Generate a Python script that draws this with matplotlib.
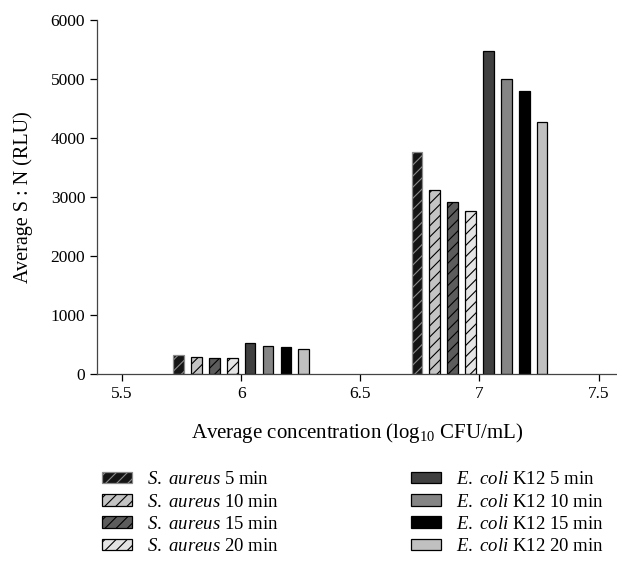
"""Average S:N vs concentration, grouped bars (S. aureus / E. coli K12)."""

import matplotlib
matplotlib.use("Agg")
import matplotlib.pyplot as plt
import numpy as np

plt.rcParams.update({
    "font.family": "Liberation Serif",
    "font.size": 12,
    "mathtext.fontset": "custom",
    "mathtext.rm": "Liberation Serif",
    "mathtext.it": "Liberation Serif:italic",
    "hatch.linewidth": 0.8,
})

# Data
concentrations = [6.0, 7.0]
series_labels = [
    r"$\it{S.\ aureus}$ 5 min",
    r"$\it{S.\ aureus}$ 10 min",
    r"$\it{S.\ aureus}$ 15 min",
    r"$\it{S.\ aureus}$ 20 min",
    r"$\it{E.\ coli}$ K12 5 min",
    r"$\it{E.\ coli}$ K12 10 min",
    r"$\it{E.\ coli}$ K12 15 min",
    r"$\it{E.\ coli}$ K12 20 min",
]
sa_5 = [320, 3760]
sa_10 = [290, 3120]
sa_15 = [270, 2910]
sa_20 = [265, 2755]
ec_5 = [520, 5480]
ec_10 = [475, 5000]
ec_15 = [455, 4790]
ec_20 = [425, 4265]
values = [sa_5, sa_10, sa_15, sa_20, ec_5, ec_10, ec_15, ec_20]

# Styles
fills = ["#151515", "#c4c4c4", "#5c5c5c", "#e4e4e4",
         "#404040", "#858585", "#000000", "#c0c0c0"]
edges = ["#8a8a8a", "black", "black", "black",
         "black", "black", "black", "black"]
hatches = ["///", "///", "///", "///", None, None, None, None]

fig = plt.figure(figsize=(6.17, 5.67), dpi=100)
ax = fig.add_axes([97 / 617, 1 - 374 / 567, 1 - 97 / 617, (374 - 20) / 567])

step = 0.075
width = 0.045
x = np.array(concentrations)
for i, (vals, lab) in enumerate(zip(values, series_labels)):
    ax.bar(x + (i - 3.5) * step, vals, width=width, color=fills[i],
           edgecolor=edges[i], hatch=hatches[i], linewidth=0.9, label=lab)

ax.set_xlim(5.395, 7.577)
ax.set_ylim(0, 6000)
ax.set_xticks([5.5, 6, 6.5, 7, 7.5])
ax.set_xticklabels(["5.5", "6", "6.5", "7", "7.5"])
ax.set_yticks(range(0, 6001, 1000))
ax.tick_params(direction="out", length=5, width=0.9, labelsize=12.5)
for s in ("top", "right"):
    ax.spines[s].set_visible(False)
for s in ("left", "bottom"):
    ax.spines[s].set_linewidth(0.9)
    ax.spines[s].set_color("#444444")

ax.set_ylabel("Average S : N (RLU)", fontsize=14.5, labelpad=13)
ax.set_xlabel(r"Average concentration (log$_{10}$ CFU/mL)", fontsize=15, labelpad=14)

handles, labels = ax.get_legend_handles_labels()
fig.legend(handles, labels, loc="upper left", bbox_to_anchor=(0.1435, 0.192),
           ncol=2, frameon=False, fontsize=13.5, columnspacing=7.05,
           handlelength=1.6, handleheight=0.55, handletextpad=0.83,
           labelspacing=0.28, borderpad=0.2)

fig.savefig("out.png", dpi=100)
